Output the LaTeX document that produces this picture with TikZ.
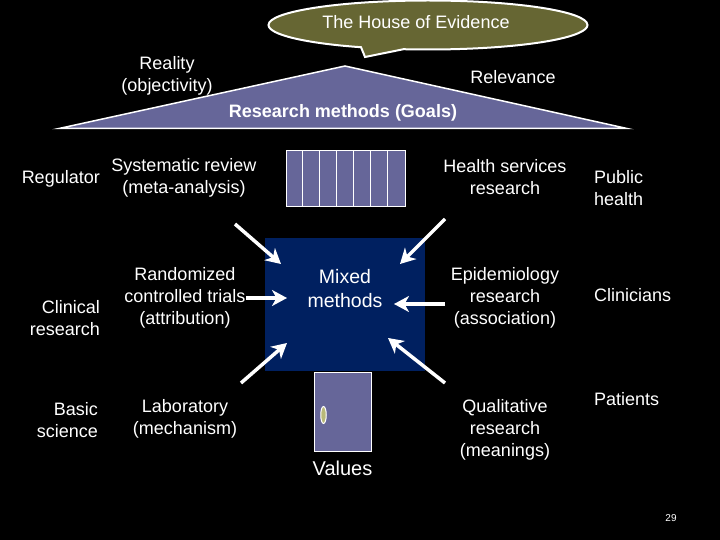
\documentclass[tikz,border=0pt]{standalone}
\usepackage{fontspec}
\setmainfont{Liberation Sans}
\usepackage{xcolor}
\usetikzlibrary{positioning, arrows.meta, calc, shapes.geometric, shapes.callouts}
\definecolor{slate}{HTML}{666699}
\definecolor{olive}{HTML}{666633}
\definecolor{navy}{HTML}{002060}
\definecolor{knob}{HTML}{B8B878}
\tikzset{
  txt/.style={text=white, align=center, font=\fontsize{18}{22}\selectfont, inner sep=0pt},
  part/.style={rectangle, draw=white, line width=1pt, fill=slate, inner sep=0pt},
  flow/.style={-{Stealth[length=15pt, width=16pt, inset=4.5pt]}, white, line width=3.5pt},
}
\begin{document}
\begin{tikzpicture}[x=1pt, y=-1pt]
\path [fill=black, use as bounding box] (0,0) rectangle (720,540);

% roof
\node [coordinate] (eaveL) at (59,128.5) {};
\node [coordinate] (ridge) at (345,66) {};
\node [coordinate] (eaveR) at (627,128.5) {};
\draw [white, line width=1.5pt, fill=slate] (eaveL) -- (ridge) -- (eaveR) -- cycle;

\node [ellipse callout, draw=white, line width=2pt, fill=olive, minimum width=319pt, minimum height=49pt, inner sep=0pt, callout absolute pointer={(365,57)}, callout pointer arc=16] (title) at (428,25) {};
\node [txt] (titletext) at (416,22) {The House of Evidence};

\node [txt] (reality) at (167,76) {Reality\\(objectivity)};
\node [txt] (relevance) at (513,77) {Relevance};
\node [txt, font=\fontsize{18}{22}\bfseries\selectfont] (goals) at (343,113) {Research methods (Goals)};

% centre
\node [rectangle, fill=navy, minimum width=160pt, minimum height=133pt, inner sep=0pt] (mixedbox) at (345,304.5) {};
\node [txt, font=\fontsize{19.5}{24}\selectfont] (mixed) at (345,289) {Mixed\\methods};

\node [part, minimum width=119pt, minimum height=56pt] (window) at (345.5,179) {};
\foreach \x in {1,...,6} {
  \draw [white, line width=1pt] ($(window.north west)+(\x*17,0)$) -- ($(window.south west)+(\x*17,0)$);
}

\node [part, minimum width=57pt, minimum height=79pt] (door) at (342.5,411.5) {};
\node [ellipse, draw=white, line width=1pt, fill=knob, minimum width=5.5pt, minimum height=17pt, inner sep=0pt] (doorknob) at (323.5,415) {};
\node [txt, font=\fontsize{20}{22}\selectfont, below = 9pt of door] (values) {Values};

% left column
\node [txt, anchor=east] (regulator) at (100,179) {Regulator};
\node [txt, align=right, anchor=east] (clinical) at (100,318) {Clinical\\research};
\node [txt, align=right, anchor=east] (basic) at (98,420) {Basic\\science};

\node [txt] (review) at (184,178) {Systematic review\\(meta-analysis)};
\node [txt] (trials) at (185,298) {Randomized\\controlled trials\\(attribution)};
\node [txt] (lab) at (185,419) {Laboratory\\(mechanism)};

% right column
\node [txt] (services) at (505,177) {Health services\\research};
\node [txt] (epi) at (505,298) {Epidemiology\\research\\(association)};
\node [txt] (qual) at (505,430) {Qualitative\\research\\(meanings)};

\node [txt, align=left, anchor=west] (public) at (594,188) {Public\\health};
\node [txt, anchor=west] (clinicians) at (594,295) {Clinicians};
\node [txt, anchor=west] (patients) at (594,399) {Patients};

\node [txt, font=\fontsize{10}{11}\selectfont] (pageno) at (671,518) {29};

% arrows
\node [coordinate] (fromreview) at (235,224) {};
\node [coordinate] (toreview) at (281,264) {};
\node [coordinate] (fromservices) at (445,219) {};
\node [coordinate] (toservices) at (400,264) {};
\node [coordinate] (fromtrials) at (246,298) {};
\node [coordinate] (totrials) at (287,298) {};
\node [coordinate] (fromepi) at (445,304) {};
\node [coordinate] (toepi) at (394,304) {};
\node [coordinate] (fromlab) at (241,383) {};
\node [coordinate] (tolab) at (287,343) {};
\node [coordinate] (fromqual) at (445,383) {};
\node [coordinate] (toqual) at (388,338) {};

\draw [flow] (fromreview) -- (toreview);
\draw [flow] (fromservices) -- (toservices);
\draw [flow] (fromtrials) -- (totrials);
\draw [flow] (fromepi) -- (toepi);
\draw [flow] (fromlab) -- (tolab);
\draw [flow] (fromqual) -- (toqual);

\end{tikzpicture}
\end{document}
